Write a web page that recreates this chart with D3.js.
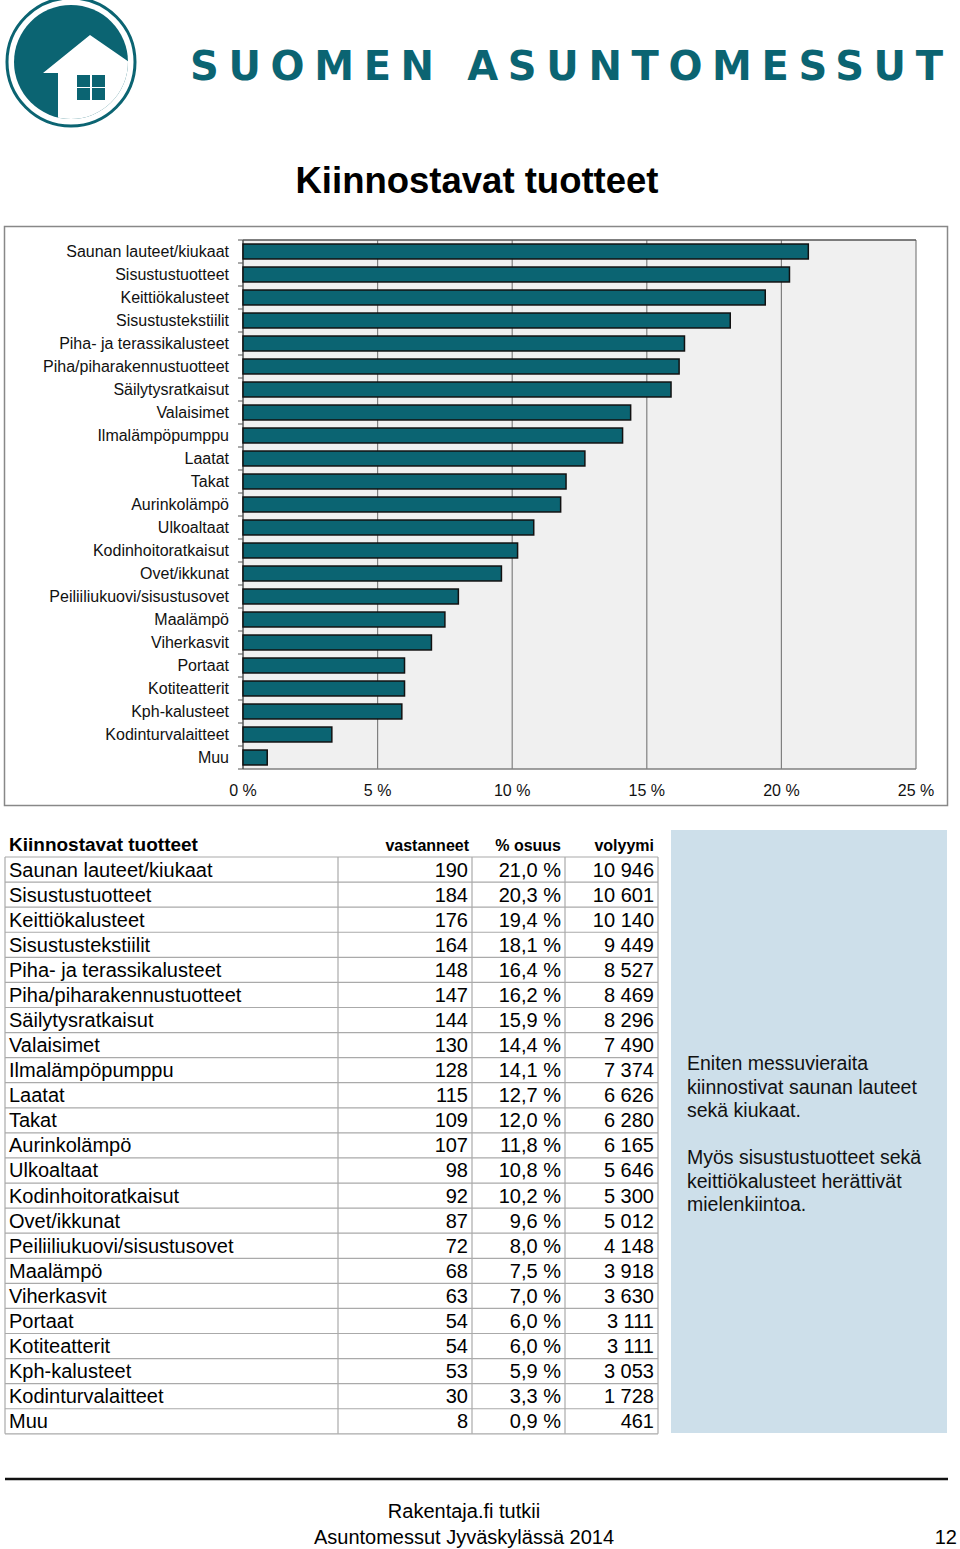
<!DOCTYPE html>
<html><head><meta charset="utf-8">
<script src="https://cdn.jsdelivr.net/npm/d3@7/dist/d3.min.js"></script>
<style>body{margin:0;background:#fff}svg{display:block;font-family:"Liberation Sans",Arial,sans-serif}</style>
</head><body>
<script>
const categories = ["Saunan lauteet/kiukaat","Sisustustuotteet","Keittiökalusteet","Sisustustekstiilit","Piha- ja terassikalusteet","Piha/piharakennustuotteet","Säilytysratkaisut","Valaisimet","Ilmalämpöpumppu","Laatat","Takat","Aurinkolämpö","Ulkoaltaat","Kodinhoitoratkaisut","Ovet/ikkunat","Peiliiliukuovi/sisustusovet","Maalämpö","Viherkasvit","Portaat","Kotiteatterit","Kph-kalusteet","Kodinturvalaitteet","Muu"];
const vastanneet = [190,184,176,164,148,147,144,130,128,115,109,107,98,92,87,72,68,63,54,54,53,30,8];
const osuus = [21.0,20.3,19.4,18.1,16.4,16.2,15.9,14.4,14.1,12.7,12.0,11.8,10.8,10.2,9.6,8.0,7.5,7.0,6.0,6.0,5.9,3.3,0.9];
const volyymi = [10946,10601,10140,9449,8527,8469,8296,7490,7374,6626,6280,6165,5646,5300,5012,4148,3918,3630,3111,3111,3053,1728,461];
const xTicks = [0,5,10,15,20,25];
const tableHeaders = ["Kiinnostavat tuotteet","vastanneet","% osuus","volyymi"];
const sideText = [["Eniten messuvieraita","kiinnostivat saunan lauteet","sekä kiukaat."],["Myös sisustustuotteet sekä","keittiökalusteet herättivät","mielenkiintoa."]];
const footer = ["Rakentaja.fi tutkii","Asuntomessut Jyväskylässä 2014"];

const teal = "#0b6472";
const svg = d3.select("body").append("svg").attr("width",960).attr("height",1549);

// Logo
const logo = svg.append("g");
logo.append("defs").append("clipPath").attr("id","disk").append("circle").attr("cx",71).attr("cy",62).attr("r",57);
logo.append("circle").attr("cx",71).attr("cy",62).attr("r",57).attr("fill",teal);
logo.append("path").attr("clip-path","url(#disk)").attr("fill","#fff")
  .attr("d","M43,73 L90,35 L132,64 L132,125 L58,125 L58,73 Z");
[[77,75],[92,75],[77,88],[92,88]].forEach(([x,y])=>logo.append("rect").attr("x",x).attr("y",y).attr("width",13).attr("height",12).attr("fill",teal));
logo.append("circle").attr("cx",71).attr("cy",62).attr("r",64).attr("fill","none").attr("stroke",teal).attr("stroke-width",3);
svg.append("text").attr("x",190).attr("y",80).attr("font-family","'DejaVu Sans',sans-serif").attr("font-weight","bold")
  .attr("font-size",40).attr("fill",teal).attr("textLength",753).attr("lengthAdjust","spacing").text("SUOMEN ASUNTOMESSUT");

// Title
svg.append("text").attr("x",477).attr("y",193).attr("text-anchor","middle").attr("font-weight","bold").attr("font-size",36.5).text("Kiinnostavat tuotteet");

// Chart frame
svg.append("rect").attr("x",4.5).attr("y",226.5).attr("width",943).attr("height",579).attr("fill","#fff").attr("stroke","#888").attr("stroke-width",1.5);

const x = d3.scaleLinear().domain([0,25]).range([243,916]);
const y = d3.scaleBand().domain(categories).range([240,769]).paddingInner(0.35).paddingOuter(0.175);
const plot = svg.append("g");
plot.append("rect").attr("x",243).attr("y",240).attr("width",673).attr("height",529).attr("fill","#f0f0f0");
plot.selectAll("line.grid").data(xTicks.slice(1)).join("line").attr("class","grid")
  .attr("x1",d=>x(d)).attr("x2",d=>x(d)).attr("y1",240).attr("y2",769).attr("stroke","#808080").attr("stroke-width",1.2);
plot.append("line").attr("x1",243).attr("x2",916).attr("y1",240).attr("y2",240).attr("stroke","#555").attr("stroke-width",1.5);
plot.append("line").attr("x1",243).attr("x2",916).attr("y1",769).attr("y2",769).attr("stroke","#808080").attr("stroke-width",1.5);
plot.append("line").attr("x1",243).attr("x2",243).attr("y1",240).attr("y2",769).attr("stroke","#555").attr("stroke-width",1.5);
const step = y.step();
plot.selectAll("line.ytick").data(d3.range(categories.length+1)).join("line").attr("class","ytick")
  .attr("x1",238).attr("x2",243).attr("y1",i=>240+i*step).attr("y2",i=>240+i*step).attr("stroke","#555");
plot.selectAll("rect.bar").data(categories).join("rect").attr("class","bar")
  .attr("x",x(0)).attr("y",d=>y(d)).attr("width",(d,i)=>x(osuus[i])-x(0)).attr("height",y.bandwidth())
  .attr("fill",teal).attr("stroke","#111").attr("stroke-width",1.5);
plot.selectAll("text.ylab").data(categories).join("text").attr("class","ylab")
  .attr("x",229).attr("y",d=>y(d)+y.bandwidth()/2+5.5).attr("text-anchor","end").attr("font-size",16).attr("fill","#111").text(d=>d);
plot.selectAll("text.xlab").data(xTicks).join("text").attr("class","xlab")
  .attr("x",d=>x(d)).attr("y",796).attr("text-anchor","middle").attr("font-size",16).attr("fill","#111").text(d=>d+" %");

// Table
const tTop = 857, rowH = 25.08, cols = [5,338,472,565,658];
const tbl = svg.append("g");
tbl.append("text").attr("x",9).attr("y",851).attr("font-weight","bold").attr("font-size",19).text(tableHeaders[0]);
[[469,1],[561,2],[654,3]].forEach(([xx,i])=>tbl.append("text").attr("x",xx).attr("y",851).attr("text-anchor","end").attr("font-weight","bold").attr("font-size",16).text(tableHeaders[i]));
const fmtNum = v => d3.format(",")(v).replace(/,/g," ");
const fmtPct = v => v.toFixed(1).replace(".",",")+" %";
categories.forEach((c,i)=>{
  const ty = tTop + i*rowH + 19.5;
  tbl.append("text").attr("x",9).attr("y",ty).attr("font-size",20).text(c);
  tbl.append("text").attr("x",468).attr("y",ty).attr("text-anchor","end").attr("font-size",20).text(vastanneet[i]);
  tbl.append("text").attr("x",561).attr("y",ty).attr("text-anchor","end").attr("font-size",20).text(fmtPct(osuus[i]));
  tbl.append("text").attr("x",654).attr("y",ty).attr("text-anchor","end").attr("font-size",20).text(fmtNum(volyymi[i]));
});
tbl.selectAll("line.h").data(d3.range(categories.length+1)).join("line").attr("class","h")
  .attr("x1",5).attr("x2",658).attr("y1",i=>tTop+i*rowH).attr("y2",i=>tTop+i*rowH).attr("stroke","#aaa").attr("stroke-width",1.2);
tbl.selectAll("line.v").data(cols).join("line").attr("class","v")
  .attr("x1",d=>d).attr("x2",d=>d).attr("y1",tTop).attr("y2",tTop+categories.length*rowH).attr("stroke","#aaa").attr("stroke-width",1.2);

// Side box
svg.append("rect").attr("x",671).attr("y",830).attr("width",276).attr("height",603).attr("fill","#cddfea");
let sy = 1070;
sideText.forEach((para)=>{
  para.forEach((line)=>{
    svg.append("text").attr("x",687).attr("y",sy).attr("font-size",19.5).attr("fill","#111").text(line);
    sy += 23.5;
  });
  sy += 23.5;
});

// Footer
svg.append("line").attr("x1",5).attr("x2",948).attr("y1",1479).attr("y2",1479).attr("stroke","#111").attr("stroke-width",2.5);
svg.append("text").attr("x",464).attr("y",1518).attr("text-anchor","middle").attr("font-size",20).text(footer[0]);
svg.append("text").attr("x",464).attr("y",1544).attr("text-anchor","middle").attr("font-size",20).text(footer[1]);
svg.append("text").attr("x",957).attr("y",1544).attr("text-anchor","end").attr("font-size",20).text("12");
</script>
</body></html>
